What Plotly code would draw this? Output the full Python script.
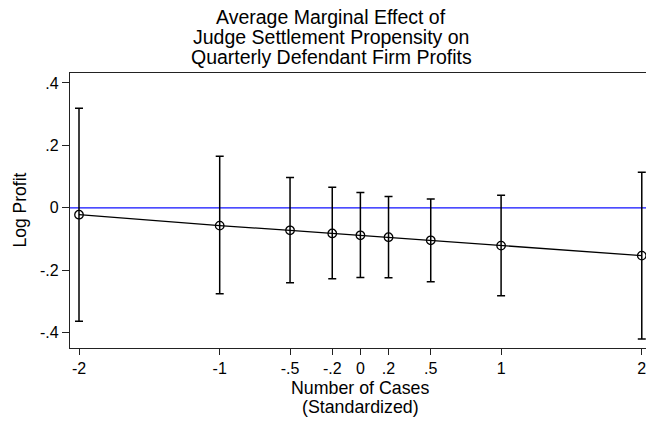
import plotly.graph_objects as go

# Average marginal effect estimates with 95% confidence bounds
cases_std = [-2, -1, -0.5, -0.2, 0, 0.2, 0.5, 1, 2]
ame = [-0.022, -0.057, -0.072, -0.082, -0.088, -0.094, -0.104, -0.121, -0.153]
ci_hi = [0.319, 0.165, 0.097, 0.066, 0.049, 0.036, 0.028, 0.040, 0.114]
ci_lo = [-0.363, -0.275, -0.240, -0.227, -0.223, -0.224, -0.237, -0.282, -0.420]

x_tickvals = [-2, -1, -0.5, -0.2, 0, 0.2, 0.5, 1, 2]
x_ticktext = ["-2", "-1", "-.5", "-.2", "0", ".2", ".5", "1", "2"]
y_tickvals = [0.4, 0.2, 0, -0.2, -0.4]
y_ticktext = [".4", ".2", "0", "-.2", "-.4"]

title_lines = ["Average Marginal Effect of",
               "Judge Settlement Propensity on",
               "Quarterly Defendant Firm Profits"]
xtitle_lines = ["Number of Cases", "(Standardized)"]
ytitle = "Log Profit"

FONT = "Liberation Sans, Arial, Helvetica, sans-serif"
W, H = 646, 421
M_L, M_R, M_T, M_B = 70, 0, 73, 73

err_plus = [h - m for h, m in zip(ci_hi, ame)]
err_minus = [m - l for m, l in zip(ame, ci_lo)]

fig = go.Figure()

# reference line at zero
fig.add_hline(y=0, line=dict(color="#1010ff", width=1.4), layer="below")

fig.add_trace(go.Scatter(
    x=cases_std, y=ame, mode="lines+markers",
    line=dict(color="black", width=1.3),
    marker=dict(symbol="circle-open", size=8.5, color="black", line=dict(width=1.3)),
    error_y=dict(type="data", symmetric=False, array=err_plus, arrayminus=err_minus,
                 color="black", thickness=1.5, width=4),
    showlegend=False,
))


def px_to_paper(py):
    """Convert a pixel row (from the top of the page) to paper y."""
    plot_h = H - M_T - M_B
    return (H - M_B - py) / plot_h


annotations = []
# figure title, one annotation per line for tight line spacing
for i, line in enumerate(title_lines):
    annotations.append(dict(
        text=line, x=0.5, xref="paper", xanchor="center", xshift=-27,
        y=px_to_paper(17 + 20 * i), yref="paper", yanchor="middle",
        showarrow=False, font=dict(size=19.5, family=FONT, color="black")))
# x-axis title
for i, line in enumerate(xtitle_lines):
    annotations.append(dict(
        text=line, x=0.5, xref="paper", xanchor="center", xshift=2,
        y=px_to_paper(388 + 18.5 * i), yref="paper", yanchor="middle",
        showarrow=False, font=dict(size=17.8, family=FONT, color="black")))
# y-axis title
annotations.append(dict(
    text=ytitle, textangle=-90, x=0, xref="paper", xanchor="center", xshift=-51,
    y=0.5, yref="paper", yanchor="middle", showarrow=False,
    font=dict(size=17.5, family=FONT, color="black")))

fig.update_layout(
    width=W, height=H,
    margin=dict(l=M_L, r=M_R, t=M_T, b=M_B),
    paper_bgcolor="white", plot_bgcolor="white",
    font=dict(family=FONT, size=16, color="black"),
    showlegend=False,
    xaxis=dict(
        range=[-2.064, 2.03], tickvals=x_tickvals, ticktext=x_ticktext,
        showgrid=False, zeroline=False, showline=True, linecolor="#222", linewidth=1.3,
        mirror=True, ticks="outside", ticklen=6, tickcolor="#222", tickwidth=1,
        tickfont=dict(size=16), ticklabeloverflow="allow",
    ),
    yaxis=dict(
        range=[-0.449, 0.432], tickvals=y_tickvals, ticktext=y_ticktext,
        showgrid=False, zeroline=False, showline=True, linecolor="#222", linewidth=1.3,
        ticks="outside", ticklen=7, tickcolor="#222", tickwidth=1,
        tickfont=dict(size=16),
    ),
    annotations=annotations,
)

fig.write_html("out.html")
